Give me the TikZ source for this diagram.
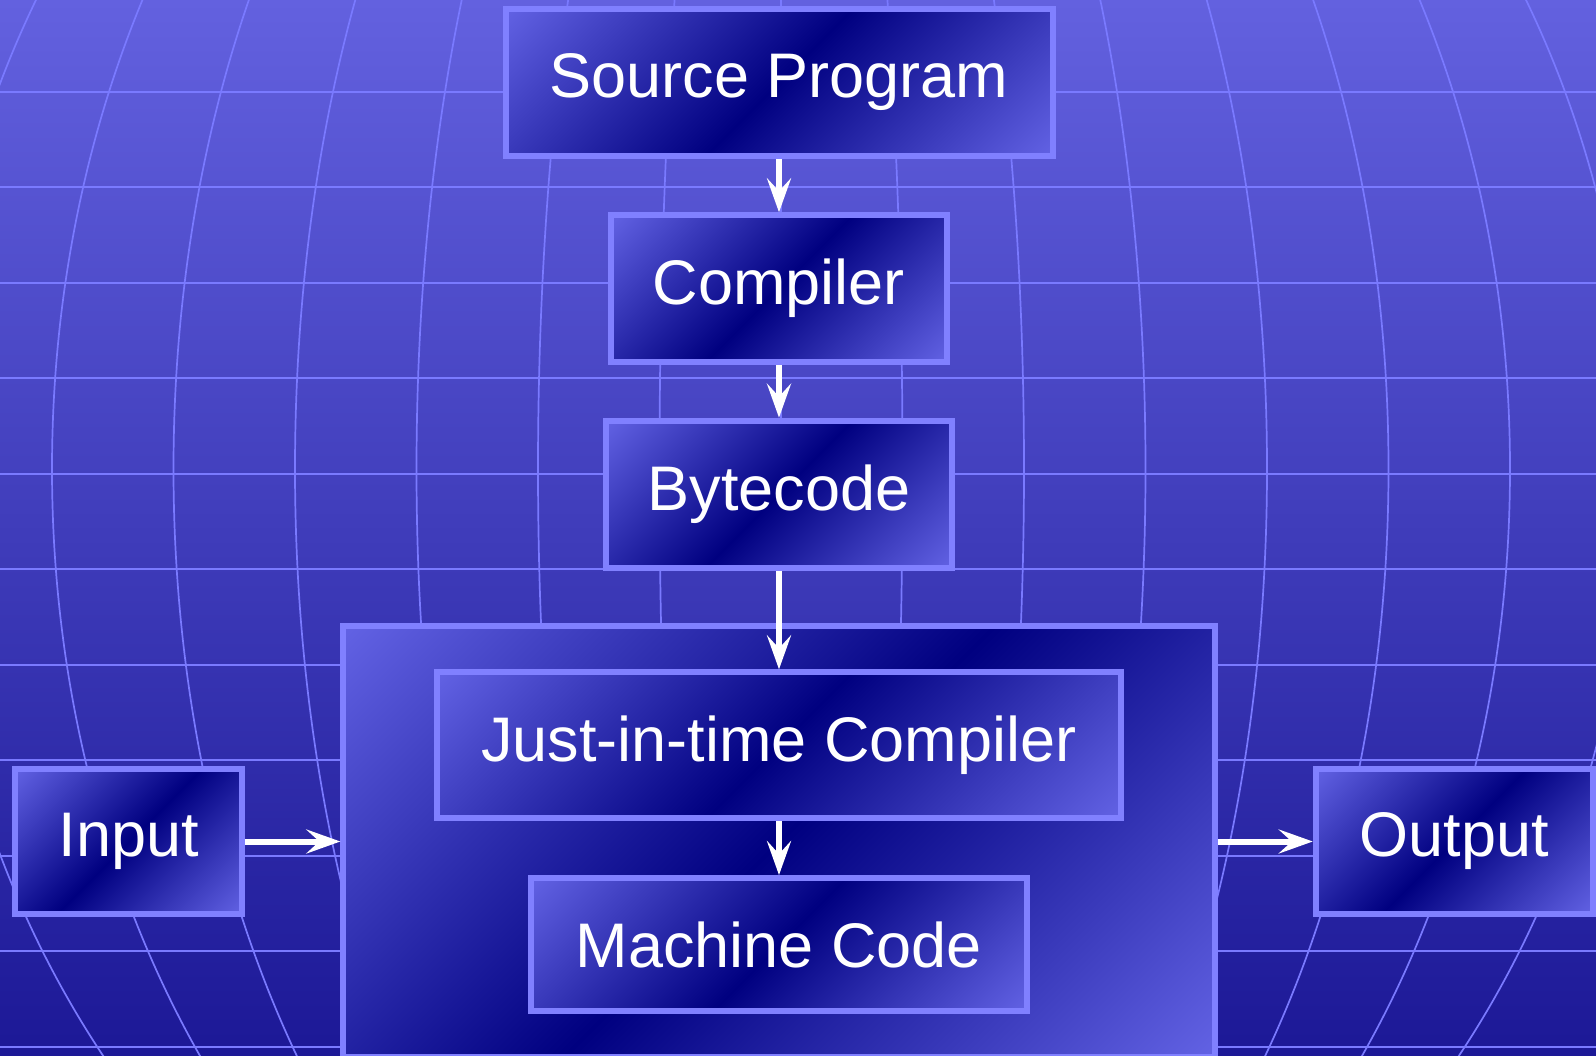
\documentclass[tikz,border=0pt]{standalone}
\usepackage{fontspec}
\setmainfont{Liberation Sans}
\usetikzlibrary{arrows.meta}
\definecolor{bgtop}{RGB}{99,97,223}
\definecolor{bgbot}{RGB}{28,24,150}
\definecolor{gridcol}{RGB}{122,122,255}
\definecolor{boxborder}{RGB}{128,128,255}
\definecolor{boxlight}{RGB}{122,122,252}
\definecolor{boxdark}{RGB}{0,0,128}
\pgfdeclarehorizontalshading{boxshade}{100bp}{color(0bp)=(boxlight); color(6bp)=(boxlight); color(50bp)=(boxdark); color(94bp)=(boxlight); color(100bp)=(boxlight)}
\tikzset{
  gridline/.style={draw=gridcol, line width=1.7pt},
  box/.style={draw=boxborder, line width=6pt, shading=boxshade, shading angle=-45,
    text=white, font=\fontsize{63}{75}\selectfont, inner sep=0pt},
  arr/.style={draw=white, line width=6pt, -{Stealth[length=34pt, width=24pt, inset=13pt]}}
}
\begin{document}
\begin{tikzpicture}[x=1pt,y=-1pt]
\useasboundingbox (0,0) rectangle (1596,1056);
\clip (0,0) rectangle (1596,1056);
% background
\shade[top color=bgtop, bottom color=bgbot] (0,0) rectangle (1596,1056);
% grid
\foreach \i in {0,...,10} \draw[gridline] (0,{91.7+95.5*\i}) -- (1596,{91.7+95.5*\i});
\draw[gridline] (781,0) -- (781,1056);
\foreach \k in {1,...,7} \draw[gridline] (781,469) ellipse [x radius={121.5pt*\k}, y radius=971.5pt];
% boxes
\node[box, minimum width=547pt, minimum height=147pt] (src) at (779,82.5) {Source Program};
\node[box, minimum width=336pt, minimum height=146.6pt] (comp) at (779,288.6) {Compiler};
\node[box, minimum width=346pt, minimum height=147pt] (byte) at (779,494.2) {Bytecode};
\node[box, minimum width=871.3pt, minimum height=430.4pt] (vm) at (779,841.5) {};
\node[box, minimum width=684pt, minimum height=145.7pt] (jit) at (779,745.2) {Just-in-time Compiler};
\node[box, minimum width=495.7pt, minimum height=133.3pt] (mc) at (779,944.7) {Machine Code};
\node[box, minimum width=226.7pt, minimum height=145pt] (in) at (128.7,841.5) {Input};
\node[box, minimum width=277.3pt, minimum height=145pt] (out) at (1454.4,841.5) {Output};
% arrows
\draw[arr] (src.south) -- (comp.north);
\draw[arr] (comp.south) -- (byte.north);
\draw[arr] (byte.south) -- (jit.north);
\draw[arr] (jit.south) -- (mc.north);
\draw[arr] (in.east) -- (vm.west);
\draw[arr] (vm.east) -- (out.west);
\end{tikzpicture}
\end{document}
